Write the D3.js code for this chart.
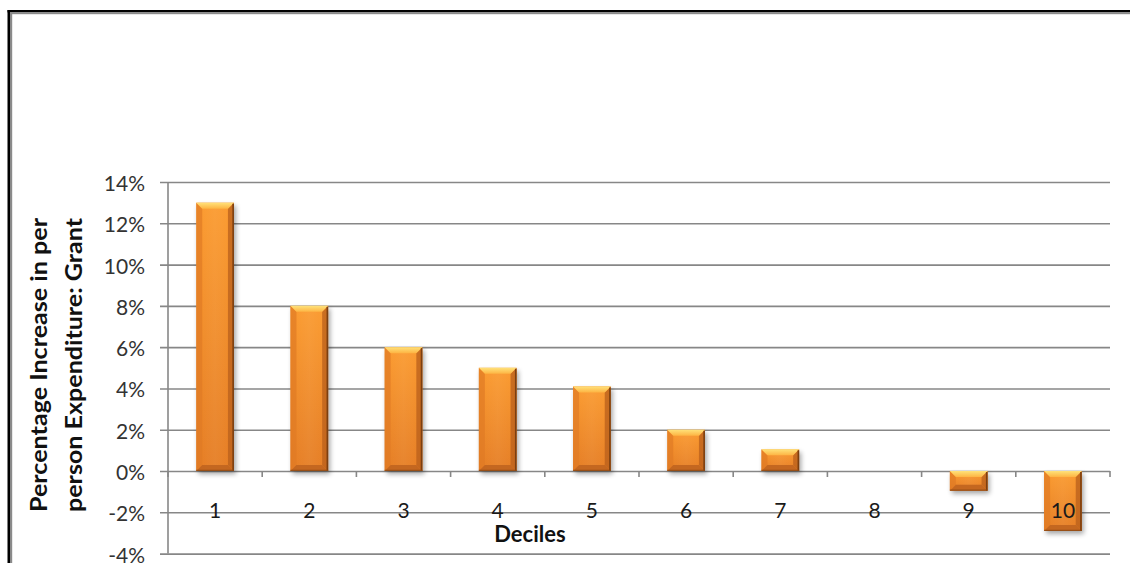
<!DOCTYPE html>
<html><head><meta charset="utf-8">
<script src="https://cdn.jsdelivr.net/npm/d3@7"></script>
<style>
html,body{margin:0;padding:0;background:#fff;}
svg{display:block;}
</style></head>
<body>
<svg id="chart" width="1130" height="563"></svg>
<script>
// ---- data ----
const deciles = ["1","2","3","4","5","6","7","8","9","10"];
const increase = [0.13, 0.08, 0.06, 0.05, 0.041, 0.02, 0.0105, 0, -0.0095, -0.029];
const yTicks = [-0.04, -0.02, 0, 0.02, 0.04, 0.06, 0.08, 0.10, 0.12, 0.14];
const yTitleLines = ["Percentage Increase in per", "person Expenditure: Grant"];
const xTitle = "Deciles";

const svg = d3.select("#chart");
const W = 1130, H = 563;
const plot = {left: 168, right: 1110, top: 182, bottom: 553.6};

// frame
svg.append("rect").attr("x",7.5).attr("y",10).attr("width",W).attr("height",2.4).attr("fill","#000");
svg.append("rect").attr("x",7.5).attr("y",10).attr("width",2.5).attr("height",H).attr("fill","#000");
svg.append("rect").attr("x",10).attr("y",12.4).attr("width",W).attr("height",1.8).attr("fill","#8a8a8a");
svg.append("rect").attr("x",10).attr("y",12.4).attr("width",2.2).attr("height",H).attr("fill","#8a8a8a");

const x = d3.scaleBand().domain(deciles).range([plot.left, plot.right]).paddingInner(0.6).paddingOuter(0.3);
const y = d3.scaleLinear().domain([-0.04, 0.14]).range([plot.bottom, plot.top]);

// defs
const defs = svg.append("defs");
const face = defs.append("linearGradient").attr("id","face").attr("x1",0).attr("y1",0).attr("x2",0).attr("y2",1);
face.append("stop").attr("offset","0%").attr("stop-color","#FB9A2E");
face.append("stop").attr("offset","100%").attr("stop-color","#E57C22");
const faceH = defs.append("linearGradient").attr("id","faceH").attr("x1",0).attr("y1",0).attr("x2",1).attr("y2",0);
faceH.append("stop").attr("offset","0%").attr("stop-color","#ffffff").attr("stop-opacity",0);
faceH.append("stop").attr("offset","50%").attr("stop-color","#ffffff").attr("stop-opacity",0.06);
faceH.append("stop").attr("offset","100%").attr("stop-color","#ffffff").attr("stop-opacity",0);
const topG = defs.append("linearGradient").attr("id","topG").attr("x1",0).attr("y1",0).attr("x2",0).attr("y2",1);
topG.append("stop").attr("offset","0%").attr("stop-color","#FFE27A");
topG.append("stop").attr("offset","100%").attr("stop-color","#FDB443");
const shadow = defs.append("filter").attr("id","shadow").attr("x","-30%").attr("y","-30%").attr("width","160%").attr("height","160%");
shadow.append("feGaussianBlur").attr("stdDeviation",2.5);

const pct = v => d3.format(".0%")(v).replace("\u2212","-");

// y axis ticks, labels, gridlines
const yAxis = d3.axisLeft(y).tickValues(yTicks).tickSize(0).tickFormat(pct);
const yg = svg.append("g").attr("transform",`translate(${plot.left},0)`).call(yAxis);
yg.select(".domain").remove();
yg.selectAll(".tick line").remove();
yg.selectAll(".tick").append("line")
  .attr("x1",-8).attr("x2",plot.right-plot.left)
  .attr("stroke","#878787").attr("stroke-width",1.6);
yg.selectAll(".tick text")
  .attr("x",-23).attr("dy",null).attr("dominant-baseline","central")
  .attr("font-family","Lato, 'Open Sans', sans-serif").attr("font-size",21)
  .attr("fill","#333");

// y axis line
svg.append("line").attr("x1",plot.left).attr("x2",plot.left).attr("y1",plot.top).attr("y2",plot.bottom)
  .attr("stroke","#878787").attr("stroke-width",1.6);

// category axis at zero with tick marks at boundaries
const zeroY = y(0);
const step = x.step();
const bounds = d3.range(deciles.length + 1).map(i => plot.left + i * step);
svg.append("g").selectAll("line").data(bounds).join("line")
  .attr("x1",d=>d).attr("x2",d=>d).attr("y1",zeroY).attr("y2",zeroY+6)
  .attr("stroke","#878787").attr("stroke-width",1.6);

// bars
const bars = svg.append("g");
deciles.forEach((d,i) => {
  const v = increase[i];
  if (v === 0) return;
  const x0 = x(d), w = x.bandwidth(), x1 = x0 + w;
  const y0 = Math.min(y(v), zeroY), y1 = Math.max(y(v), zeroY);
  const h = y1 - y0;
  const b = Math.min(6, h/2.5);
  const g = bars.append("g");
  g.append("rect").attr("x",x0+2).attr("y",y0+3).attr("width",w).attr("height",h)
    .attr("fill","#000").attr("opacity",0.35).attr("filter","url(#shadow)");
  g.append("rect").attr("x",x0).attr("y",y0).attr("width",w).attr("height",h).attr("fill","url(#face)");
  g.append("rect").attr("x",x0).attr("y",y0).attr("width",w).attr("height",h).attr("fill","url(#faceH)");
  g.append("polygon").attr("points",[[x0,y0],[x0+b,y0+b],[x0+b,y1-b],[x0,y1]].join(" "))
    .attr("fill","#E07A25").attr("opacity",0.7);
  g.append("polygon").attr("points",[[x1,y0],[x1-b,y0+b],[x1-b,y1-b],[x1,y1]].join(" "))
    .attr("fill","#B85F1C").attr("opacity",0.75);
  g.append("polygon").attr("points",[[x0,y1],[x0+b,y1-b],[x1-b,y1-b],[x1,y1]].join(" "))
    .attr("fill","#C0641F").attr("opacity",0.9);
  g.append("polygon").attr("points",[[x0,y0],[x1,y0],[x1-b,y0+b],[x0+b,y0+b]].join(" "))
    .attr("fill","url(#topG)");
  g.append("line").attr("x1",x1-0.8).attr("x2",x1-0.8).attr("y1",y0+1).attr("y2",y1)
    .attr("stroke","#7C3F10").attr("stroke-width",1.6);
  g.append("line").attr("x1",x0).attr("x2",x1).attr("y1",y1-0.6).attr("y2",y1-0.6)
    .attr("stroke","#8E4A14").attr("stroke-width",1.2).attr("opacity",0.8);
});

// category labels
svg.append("g").selectAll("text").data(deciles).join("text")
  .attr("x",d=>x(d)+x.bandwidth()/2).attr("y",509)
  .attr("text-anchor","middle").attr("dominant-baseline","central")
  .attr("font-family","Lato, 'Open Sans', sans-serif").attr("font-size",21)
  .attr("fill","#1a1a1a").text(d=>d);

// x title
svg.append("text").attr("x",530).attr("y",542).attr("text-anchor","middle")
  .attr("font-family","Lato, 'Open Sans', sans-serif").attr("font-weight","bold").attr("font-size",22)
  .attr("fill","#111").text(xTitle);

// y title
const ytx = [47, 82];
yTitleLines.forEach((t,i) => {
  svg.append("text").attr("transform",`translate(${ytx[i]},365) rotate(-90)`)
    .attr("text-anchor","middle")
    .attr("font-family","Lato, 'Open Sans', sans-serif").attr("font-weight","bold").attr("font-size",22)
    .attr("textLength",294).attr("lengthAdjust","spacingAndGlyphs")
    .attr("fill","#111").text(t);
});
</script>
</body></html>
